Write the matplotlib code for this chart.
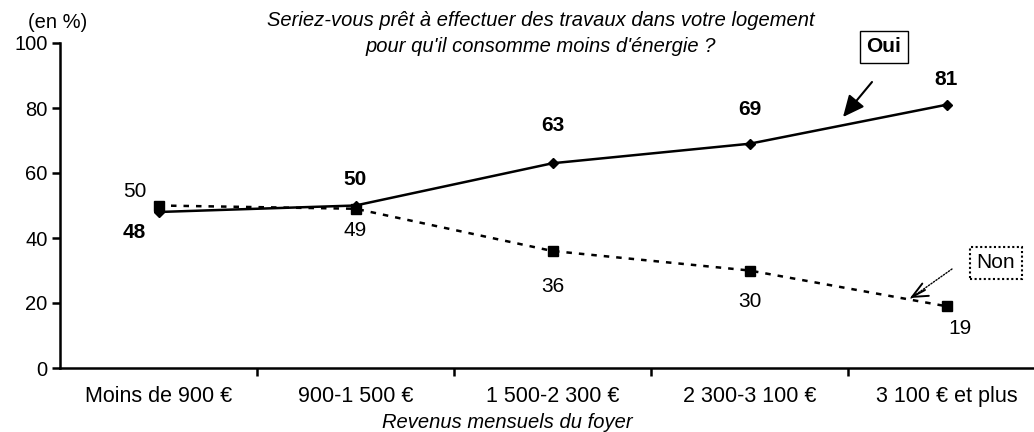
import numpy as np
import matplotlib
matplotlib.use("Agg")
import matplotlib.pyplot as plt

plt.rcParams['font.family'] = ['Liberation Sans', 'DejaVu Sans']

categories = ["Moins de 900 €", "900-1 500 €", "1 500-2 300 €", "2 300-3 100 €", "3 100 € et plus"]
oui = [48, 50, 63, 69, 81]
non = [50, 49, 36, 30, 19]

# label offsets in pixels (dx, dy)
oui_off = [(-24, -20), (0, 26), (0, 38), (0, 34), (0, 25)]
non_off = [(-24, 14), (0, -22), (0, -35), (0, -31), (14, -22)]

H = 432
fig = plt.figure(figsize=(10.34, 4.32), dpi=100)
ax = fig.add_axes([60 / 1034, 64 / H, 985 / 1034, 325 / H])

x = np.arange(len(categories))
ax.plot(x, oui, color='black', lw=1.8, marker='D', ms=5, zorder=3)
ax.plot(x, non, color='black', lw=1.8, ls=(0, (2.2, 2.8)), marker='s', ms=6.5, zorder=2)

for i in range(len(x)):
    ax.annotate(str(oui[i]), (x[i], oui[i]), xytext=oui_off[i], textcoords='offset pixels',
                ha='center', va='center', fontsize=15, fontweight='bold')
    ax.annotate(str(non[i]), (x[i], non[i]), xytext=non_off[i], textcoords='offset pixels',
                ha='center', va='center', fontsize=15)

ax.set_xlim(-0.5, len(categories) - 0.5)
ax.set_ylim(0, 100)
ax.set_yticks([0, 20, 40, 60, 80, 100])
ax.tick_params(axis='y', labelsize=14.5, width=1.8, length=6, direction='out', pad=3)
ax.set_xticks(x)
ax.set_xticklabels(categories)
ax.tick_params(axis='x', which='major', length=0, labelsize=15.5, pad=13)
ax.set_xticks(np.arange(0.5, len(categories) - 0.5, 1), minor=True)
ax.tick_params(axis='x', which='minor', length=6, width=1.8, direction='out')
for s in ['top', 'right']:
    ax.spines[s].set_visible(False)
for s in ['left', 'bottom']:
    ax.spines[s].set_linewidth(1.8)

fig.text(58 / 1034, 1 - 22 / H, "(en %)", ha='center', va='center', fontsize=14.5)
fig.text(541 / 1034, 1 - 20 / H, "Seriez-vous prêt à effectuer des travaux dans votre logement",
         ha='center', va='center', fontsize=14.5, style='italic')
fig.text(541 / 1034, 1 - 47 / H, "pour qu'il consomme moins d'énergie ?",
         ha='center', va='center', fontsize=14.5, style='italic')
fig.text(507 / 1034, 1 - 422 / H, "Revenus mensuels du foyer",
         ha='center', va='center', fontsize=14.5, style='italic')

# Oui callout
fig.text(884 / 1034, 1 - 47 / H, "Oui", ha='center', va='center', fontsize=15, fontweight='bold',
         bbox=dict(boxstyle='square,pad=0.3', fc='white', ec='black', lw=1))
ax.annotate("", xy=(843, H - 117), xycoords='figure pixels',
            xytext=(872, H - 82), textcoords='figure pixels',
            arrowprops=dict(arrowstyle='-|>,head_length=1.3,head_width=0.6', color='black', lw=1.5,
                            shrinkA=0, shrinkB=0))
# Non callout
fig.text(996 / 1034, 1 - 263 / H, "Non", ha='center', va='center', fontsize=15,
         bbox=dict(boxstyle='square,pad=0.3', fc='white', ec='black', lw=1.5, ls=(0, (1, 1.2))))
ax.annotate("", xy=(911, H - 298), xycoords='figure pixels',
            xytext=(952, H - 269), textcoords='figure pixels',
            arrowprops=dict(arrowstyle='-', color='black', lw=1, ls=(0, (1, 1.2)),
                            shrinkA=0, shrinkB=0))
ax.annotate("", xy=(910, H - 298), xycoords='figure pixels',
            xytext=(925, H - 290), textcoords='figure pixels',
            arrowprops=dict(arrowstyle='->,head_length=1.1,head_width=0.5', color='black', lw=1.4,
                            shrinkA=0, shrinkB=0))

fig.savefig("out.png", dpi=100)
